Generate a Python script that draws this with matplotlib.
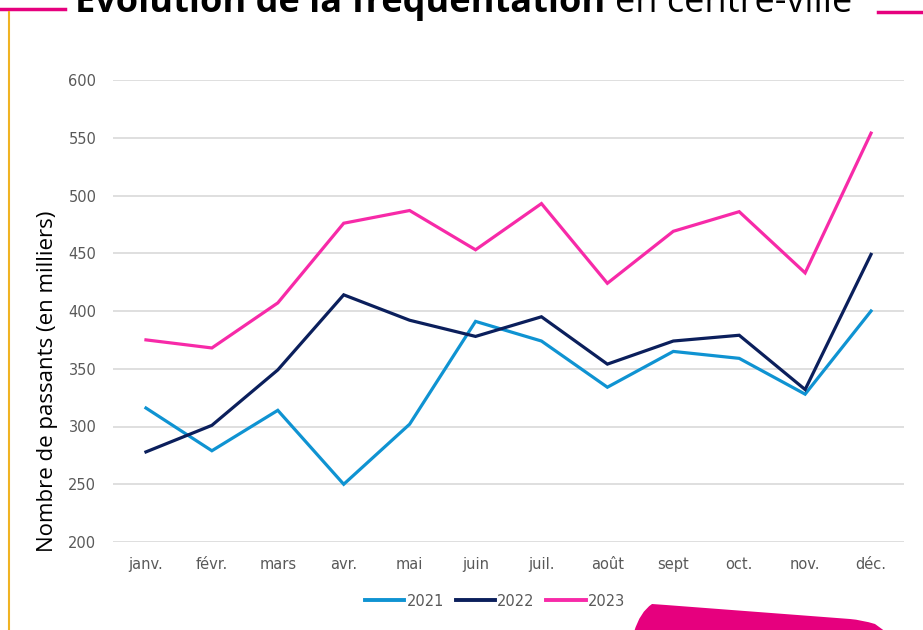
import matplotlib.pyplot as plt
from matplotlib.patches import PathPatch
from matplotlib.path import Path
from matplotlib.lines import Line2D

# Values (thousands of passers-by)
mois = ['janv.', 'févr.', 'mars', 'avr.', 'mai', 'juin', 'juil.', 'août', 'sept', 'oct.', 'nov.', 'déc.']
v2021 = [316, 279, 314, 250, 302, 391, 374, 334, 365, 359, 328, 400]
v2022 = [278, 301, 349, 414, 392, 378, 395, 354, 374, 379, 332, 449]
v2023 = [375, 368, 407, 476, 487, 453, 493, 424, 469, 486, 433, 554]
annees = ['2021', '2022', '2023']
couleurs = ['#0f93d2', '#0b1f5c', '#f72aa8']

plt.rcParams['font.family'] = ['DejaVu Sans']

fig = plt.figure(figsize=(9.23, 6.3), dpi=100)
ax = fig.add_axes([113 / 923, 1 - 542 / 630, (904 - 113) / 923, (542 - 80) / 630])

x = range(len(mois))
for serie, lab, c in zip([v2021, v2022, v2023], annees, couleurs):
    ax.plot(x, serie, color=c, lw=2.3, label=lab, solid_joinstyle='miter')

ax.set_xlim(-0.5, len(mois) - 0.5)
ax.set_ylim(200, 600)
ax.set_yticks(range(200, 601, 50))
ax.set_xticks(list(x))
ax.set_xticklabels(mois)
ax.grid(axis='y', color='#d9d9d9', lw=1.2)
ax.set_axisbelow(True)
for s in ax.spines.values():
    s.set_visible(False)
ax.tick_params(axis='both', length=0, colors='#595959', labelsize=10.5)
ax.tick_params(axis='x', pad=11)
ax.tick_params(axis='y', pad=12)

ax.set_ylabel('Nombre de passants (en milliers)', fontsize=16, color='black',
              fontfamily=['Open Sans', 'DejaVu Sans'])
ax.yaxis.set_label_coords((58 - 113) / 791, (542 - 381) / 462)

handles = [Line2D([0], [0], color=c, lw=2.8) for c in couleurs]
fig.legend(handles, annees, loc='center', bbox_to_anchor=(495 / 923, 1 - 601 / 630),
           ncol=3, frameon=False, fontsize=10.5, labelcolor='#595959',
           handlelength=2.7, handletextpad=0.15, columnspacing=0.8)

# Title (cut off at the top in the original)
fig.text(75 / 923, 1 - 12 / 630, 'Évolution de la fréquentation', fontsize=26, fontweight='bold',
         fontfamily=['Open Sans', 'DejaVu Sans'], va='baseline', ha='left')
fig.text(615 / 923, 1 - 12 / 630, 'en centre-ville', fontsize=26,
         fontfamily=['Open Sans', 'DejaVu Sans'], va='baseline', ha='left')

# decorative lines
fig.add_artist(Line2D([0, 65 / 923], [1 - 9 / 630] * 2, color='#e6007e', lw=2.5))
fig.add_artist(Line2D([878 / 923, 1], [1 - 12 / 630] * 2, color='#e6007e', lw=2.5))
fig.add_artist(Line2D([9 / 923] * 2, [0, 1 - 12 / 630], color='#f0b323', lw=1.5))

# pink shape at bottom right
verts = [(634, 632), (640, 612), (652, 604), (666, 605), (850, 619), (862, 620), (875, 624),
         (886, 632), (634, 632)]
codes = [Path.MOVETO, Path.CURVE3, Path.CURVE3, Path.LINETO, Path.LINETO, Path.CURVE3, Path.CURVE3,
         Path.LINETO, Path.CLOSEPOLY]
verts = [(px / 923, 1 - py / 630) for px, py in verts]
fig.add_artist(PathPatch(Path(verts, codes), facecolor='#e6007e', edgecolor='none',
                         transform=fig.transFigure))

fig.savefig('out.png', dpi=100)
